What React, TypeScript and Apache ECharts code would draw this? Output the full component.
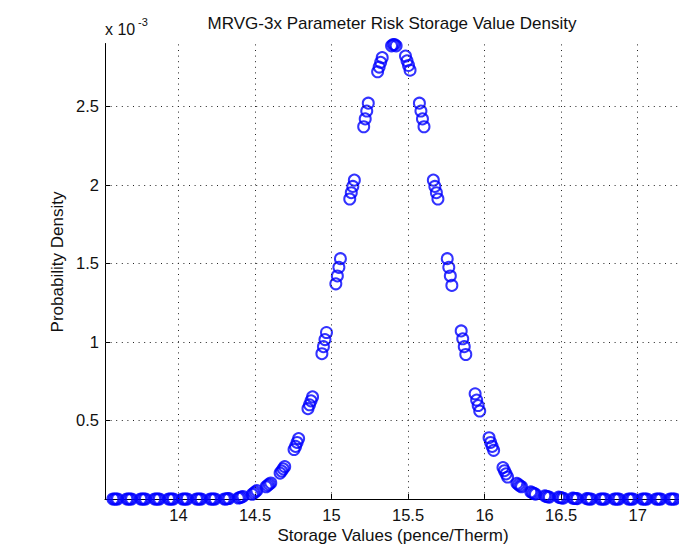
import React, { useEffect, useRef } from 'react';
import * as echarts from 'echarts';

// Storage value density, four runs, values in units of 10^-3
const runAx = [13.572, 13.663, 13.754, 13.845, 13.936, 14.027, 14.118, 14.209, 14.300, 14.391, 14.482, 14.573, 14.664, 14.755, 14.846, 14.937, 15.028, 15.119, 15.210, 15.301, 15.392, 15.483, 15.574, 15.665, 15.756, 15.847, 15.938, 16.029, 16.120, 16.211, 16.302, 16.393, 16.484, 16.575, 16.666, 16.757, 16.848, 16.939, 17.030, 17.121, 17.212];
const runAy = [0, 0, 0, 0, 0, 0, 0, 0, 0, 0.006, 0.030, 0.078, 0.165, 0.315, 0.575, 0.925, 1.370, 1.910, 2.370, 2.720, 2.885, 2.820, 2.520, 2.030, 1.530, 1.070, 0.670, 0.390, 0.200, 0.100, 0.045, 0.020, 0.012, 0.006, 0.002, 0, 0, 0, 0, 0, 0];

const runBx = [13.582, 13.673, 13.764, 13.855, 13.946, 14.037, 14.128, 14.219, 14.310, 14.401, 14.492, 14.583, 14.674, 14.765, 14.856, 14.947, 15.038, 15.129, 15.220, 15.311, 15.402, 15.493, 15.584, 15.675, 15.766, 15.857, 15.948, 16.039, 16.130, 16.221, 16.312, 16.403, 16.494, 16.585, 16.676, 16.767, 16.858, 16.949, 17.040, 17.131, 17.222];
const runBy = [0, 0, 0, 0, 0, 0, 0, 0, 0, 0.009, 0.038, 0.086, 0.178, 0.335, 0.600, 0.970, 1.420, 1.950, 2.420, 2.750, 2.893, 2.790, 2.470, 1.990, 1.475, 1.020, 0.630, 0.360, 0.180, 0.092, 0.040, 0.017, 0.009, 0.004, 0.001, 0, 0, 0, 0, 0, 0];

const runCx = [13.592, 13.683, 13.774, 13.865, 13.956, 14.047, 14.138, 14.229, 14.320, 14.411, 14.502, 14.593, 14.684, 14.775, 14.866, 14.957, 15.048, 15.139, 15.230, 15.321, 15.412, 15.503, 15.594, 15.685, 15.776, 15.867, 15.958, 16.049, 16.140, 16.231, 16.322, 16.413, 16.504, 16.595, 16.686, 16.777, 16.868, 16.959, 17.050, 17.141, 17.232];
const runCy = [0, 0, 0, 0, 0, 0, 0, 0, 0.002, 0.012, 0.046, 0.094, 0.192, 0.360, 0.625, 1.015, 1.475, 1.990, 2.470, 2.780, 2.893, 2.760, 2.420, 1.950, 1.420, 0.970, 0.595, 0.335, 0.160, 0.084, 0.035, 0.014, 0.007, 0.003, 0, 0, 0, 0, 0, 0, 0];

const runDx = [13.602, 13.693, 13.784, 13.875, 13.966, 14.057, 14.148, 14.239, 14.330, 14.421, 14.512, 14.603, 14.694, 14.785, 14.876, 14.967, 15.058, 15.149, 15.240, 15.331, 15.422, 15.513, 15.604, 15.695, 15.786, 15.877, 15.968, 16.059, 16.150, 16.241, 16.332, 16.423, 16.514, 16.605, 16.696, 16.787, 16.878, 16.969, 17.060, 17.151, 17.242];
const runDy = [0, 0, 0, 0, 0, 0, 0, 0, 0.003, 0.016, 0.054, 0.102, 0.206, 0.385, 0.650, 1.060, 1.530, 2.030, 2.520, 2.810, 2.885, 2.730, 2.370, 1.910, 1.360, 0.920, 0.560, 0.310, 0.140, 0.078, 0.031, 0.012, 0.005, 0.002, 0, 0, 0, 0, 0, 0, 0];

const xTicks = [14, 14.5, 15, 15.5, 16, 16.5, 17];
const yTicks = [0.5, 1, 1.5, 2, 2.5];

const titleText = 'MRVG-3x Parameter Risk Storage Value Density';
const xName = 'Storage Values (pence/Therm)';
const yName = 'Probability Density';

const FONT = '"Liberation Sans", Arial, Helvetica, sans-serif';
const INK = '#111';
const BLUE = '#0000ff';

export default function App() {
  const ref = useRef<HTMLDivElement>(null);

  useEffect(() => {
    if (!ref.current) return;
    const chart = echarts.init(ref.current, null, { renderer: 'svg' });

    const runs = [
      { name: 'Run A', x: runAx, y: runAy },
      { name: 'Run B', x: runBx, y: runBy },
      { name: 'Run C', x: runCx, y: runCy },
      { name: 'Run D', x: runDx, y: runDy },
    ];

    const scatterSeries = runs.map((r) => ({
      type: 'scatter',
      name: r.name,
      data: r.x.map((v, i) => [v, r.y[i]]),
      symbol: 'circle',
      symbolSize: 11,
      clip: false,
      z: 3,
      itemStyle: { color: 'rgba(0,0,0,0)', borderColor: BLUE, borderWidth: 2 },
      emphasis: { disabled: true },
    }));

    // dotted grid lines at the tick positions
    const gridSeries = {
      type: 'scatter',
      name: 'grid',
      data: [],
      z: 1,
      silent: true,
      markLine: {
        silent: true,
        symbol: ['none', 'none'],
        label: { show: false },
        lineStyle: { color: '#222', width: 1, type: [1, 4.6] },
        emphasis: { disabled: true },
        data: [
          ...xTicks.map((v) => ({ xAxis: v })),
          ...yTicks.map((v) => ({ yAxis: v })),
        ],
      },
    };

    chart.setOption({
      animation: false,
      backgroundColor: '#ffffff',
      textStyle: { fontFamily: FONT },
      grid: { left: 105, top: 43.5, width: 574, bottom: 53, containLabel: false },
      xAxis: {
        type: 'value',
        min: 13.52,
        max: 17.27,
        axisLine: { show: true, onZero: false, lineStyle: { color: '#000', width: 1 } },
        axisTick: { show: true, inside: true, length: 5, customValues: xTicks, lineStyle: { color: '#000' } },
        axisLabel: { customValues: xTicks, margin: 7, fontSize: 16.5, color: INK, fontFamily: FONT },
        splitLine: { show: false },
      },
      yAxis: {
        type: 'value',
        min: 0,
        max: 2.9,
        axisLine: { show: true, onZero: false, lineStyle: { color: '#000', width: 1 } },
        axisTick: { show: true, inside: true, length: 5, customValues: yTicks, lineStyle: { color: '#000' } },
        axisLabel: { customValues: yTicks, margin: 6, fontSize: 16.5, color: INK, fontFamily: FONT },
        splitLine: { show: false },
      },
      graphic: [
        {
          type: 'text',
          x: 392,
          y: 23,
          style: { text: titleText, fill: INK, font: `17px ${FONT}`, textAlign: 'center', textVerticalAlign: 'middle' },
        },
        {
          type: 'text',
          x: 393,
          y: 535,
          style: { text: xName, fill: INK, font: `17px ${FONT}`, textAlign: 'center', textVerticalAlign: 'middle' },
        },
        {
          type: 'text',
          x: 57,
          y: 262,
          rotation: Math.PI / 2,
          style: { text: yName, fill: INK, font: `17px ${FONT}`, textAlign: 'center', textVerticalAlign: 'middle' },
        },
        {
          type: 'text',
          x: 105,
          y: 29.5,
          style: { text: 'x 10', fill: INK, font: `16px ${FONT}`, textAlign: 'left', textVerticalAlign: 'middle' },
        },
        {
          type: 'text',
          x: 138,
          y: 22,
          style: { text: '-3', fill: INK, font: `11px ${FONT}`, textAlign: 'left', textVerticalAlign: 'middle' },
        },
      ],
      series: [gridSeries, ...scatterSeries],
    });

    return () => chart.dispose();
  }, []);

  return (
    <div
      ref={ref}
      style={{ position: 'absolute', left: 0, top: 0, width: 679, height: 552 }}
    />
  );
}
